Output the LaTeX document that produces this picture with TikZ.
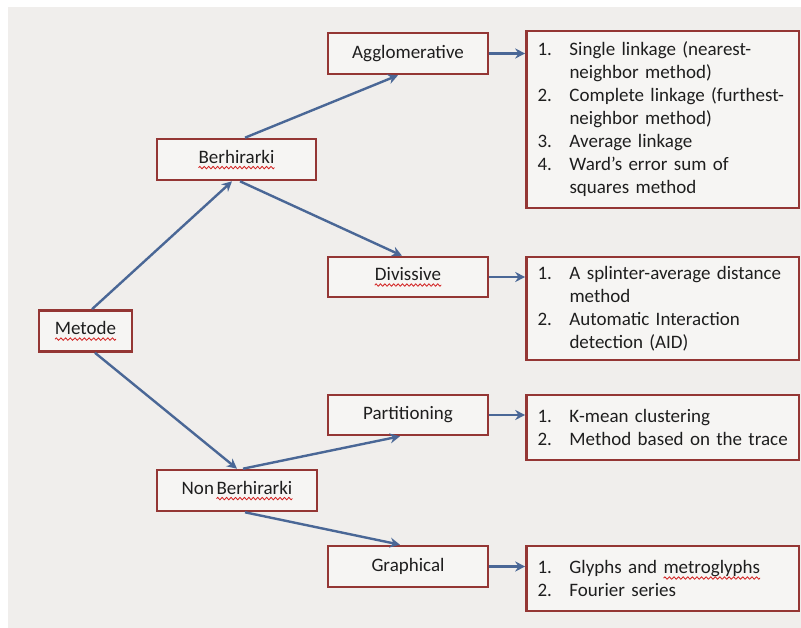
\documentclass[tikz,border=0pt]{standalone}
\usepackage{fontspec}
\setmainfont{Carlito}[WordSpace=0.6]
\usetikzlibrary{arrows.meta}

\definecolor{boxred}{HTML}{943634}
\definecolor{linkblue}{HTML}{4A6796}
\definecolor{paper}{HTML}{F0EEEC}
\definecolor{boxfill}{HTML}{F6F5F3}
\definecolor{ink}{HTML}{1E1E1E}
\definecolor{spellred}{HTML}{D22020}

% one period of a wavy underline
\newcommand\wavepiece{\tikz[baseline=0pt,x=1pt,y=1pt]{%
  \useasboundingbox (0,-1.5) rectangle (4.4,1.5);
  \draw[spellred, line width=0.8pt, line cap=round, line join=round]
    (0,0) -- (1.1,1.3) -- (3.3,-1.3) -- (4.4,0);}}
% word marked with a wavy red underline, as a spell checker does
\newcommand\spellmark[1]{\setbox0\hbox{#1}%
  \rlap{\usebox0}%
  \raisebox{-4.5pt}{\hbox to \wd0{\xleaders\hbox{\wavepiece}\hfill}}}

% numbered list lines with a hanging indent
\newcommand\li[2]{\makebox[32pt][l]{#1}#2}
\newcommand\lc[1]{\hspace*{32pt}#1}

\tikzset{
  box/.style={draw=boxred, line width=2.6pt, fill=boxfill, text=ink,
              font=\fontsize{19}{23}\selectfont, inner sep=0pt},
  smallbox/.style={box, minimum width=160pt, minimum height=41pt},
  listbox/.style={box, align=left, text width=250.5pt, inner xsep=11pt},
  link/.style={draw=linkblue, line width=2.4pt,
               -{Stealth[length=10pt,width=10pt]}}
}

\begin{document}
\begin{tikzpicture}[x=1pt,y=-1pt]
  % page and grey sheet
  \fill[white] (0,0) rectangle (801,628);
  \fill[paper] (8,7) rectangle (801,628);
  \useasboundingbox (0,0) rectangle (801,628);

  % method tree
  \node[smallbox, minimum width=93pt] (met) at (85.5,331) {\spellmark{Metode}};
  \node[smallbox, minimum width=159pt] (ber) at (236.5,159.5) {\spellmark{Berhirarki}};
  \node[smallbox] (non) at (237,490.5) {Non \spellmark{Berhirarki}};
  \node[smallbox] (agg) at (408,53.5) {Agglomerative};
  \node[smallbox, minimum height=40pt] (div) at (408,277) {\spellmark{Divissive}};
  \node[smallbox, minimum height=40pt] (part) at (408,415) {Partitioning};
  \node[smallbox] (gra) at (408,566.5) {Graphical};

  % lists of techniques
  \node[listbox, minimum height=177pt] (l1) at (662.75,119.5) {%
    \li{1.}{Single linkage (nearest-}\\
    \lc{neighbor method)}\\
    \li{2.}{Complete linkage (furthest-}\\
    \lc{neighbor method)}\\
    \li{3.}{Average linkage}\\
    \li{4.}{Ward's error sum of}\\
    \lc{squares method}};
  \node[listbox, minimum height=103pt] (l2) at (662.75,308.5) {%
    \li{1.}{A splinter-average distance}\\
    \lc{method}\\
    \li{2.}{Automatic Interaction}\\
    \lc{detection (AID)}};
  \node[listbox, minimum height=65pt] (l3) at (662.75,427.5) {%
    \li{1.}{K-mean clustering}\\
    \li{2.}{Method based on the trace}};
  \node[listbox, minimum height=65pt] (l4) at (662.75,578.5) {%
    \li{1.}{Glyphs and \spellmark{metroglyphs}}\\
    \li{2.}{Fourier series}};

  % connectors
  \draw[link] ([xshift=6.5pt]met.north) -- ([xshift=-4.5pt]ber.south);
  \draw[link] ([xshift=9.5pt]met.south) -- (non.north);
  \draw[link] ([xshift=8.5pt]ber.north) -- ([xshift=-10pt]agg.south);
  \draw[link] ([xshift=3.5pt]ber.south) -- ([xshift=-6pt]div.north);
  \draw[link] ([xshift=6pt]non.north) -- ([xshift=-8pt]part.south);
  \draw[link] ([xshift=8pt]non.south) -- ([xshift=-8pt]gra.north);
  \draw[link] (agg.east) -- (agg.east -| l1.west);
  \draw[link] (div.east) -- (div.east -| l2.west);
  \draw[link] (part.east) -- (part.east -| l3.west);
  \draw[link] (gra.east) -- (gra.east -| l4.west);
\end{tikzpicture}
\end{document}
